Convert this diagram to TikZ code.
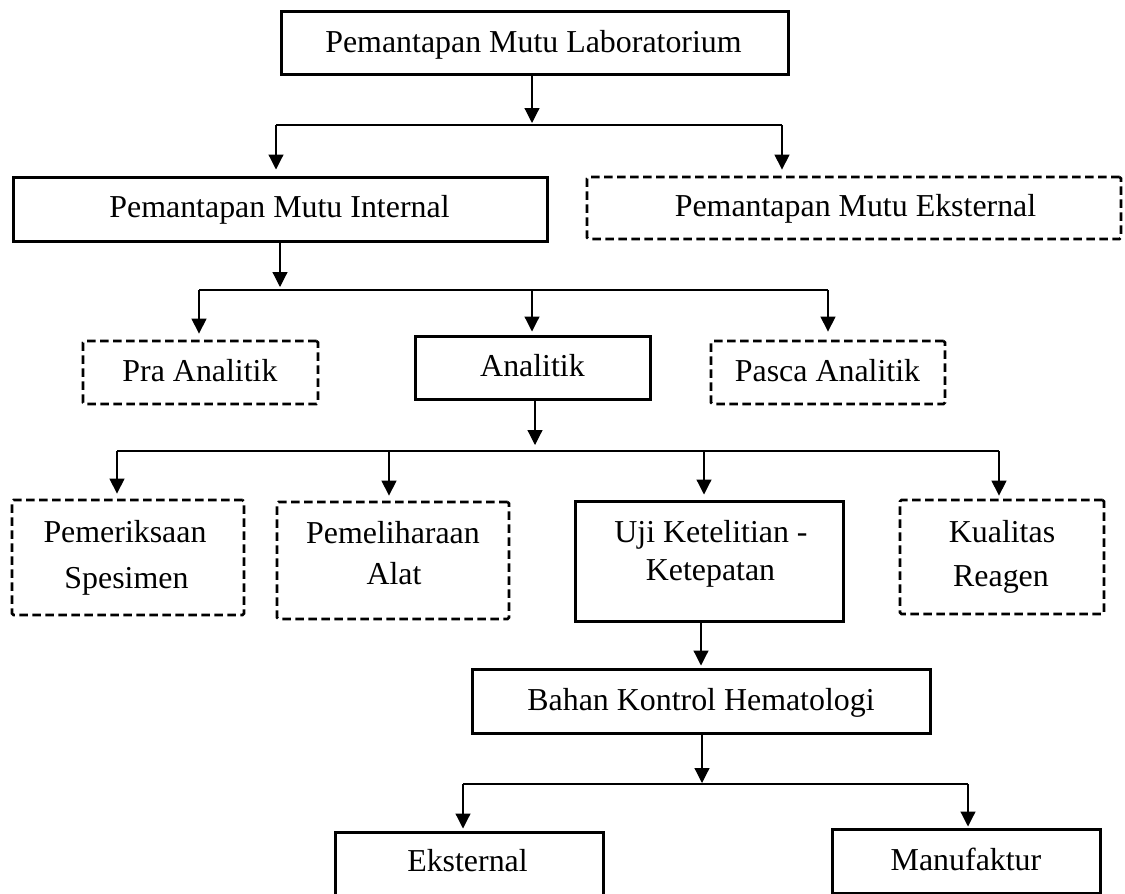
\documentclass[tikz,border=0pt]{standalone}
\usepackage{fontspec}
\setmainfont{Liberation Serif}
\usetikzlibrary{arrows.meta}
\tikzset{
  boxsolid/.style={draw=black, line width=3pt, inner sep=0pt, rectangle},
  boxdash/.style={draw=black, line width=2.8pt, dash pattern=on 8.5pt off 4.5pt, rounded corners=1.5pt, inner sep=0pt, rectangle},
  lbl/.style={anchor=base, inner sep=0pt, font=\fontsize{31.9}{38}\selectfont},
  arr/.style={-{Triangle[length=15pt,width=15pt]}, line width=1.2pt},
  busline/.style={line width=1.2pt}
}
\begin{document}
\begin{tikzpicture}[x=1pt,y=-1pt]
\clip (0,0) rectangle (1125,894);
\fill[white] (0,0) rectangle (1125,894);
% boxes
\node[boxsolid, minimum width=507pt, minimum height=63pt] (top) at (534.5,42.5) {};
\node[boxsolid, minimum width=534pt, minimum height=64pt] (pmi) at (280,209) {};
\node[boxdash, minimum width=534pt, minimum height=62pt] (pme) at (854,208) {};
\node[boxdash, minimum width=235pt, minimum height=63pt] (pra) at (200.5,372.5) {};
\node[boxsolid, minimum width=235pt, minimum height=63pt] (ana) at (532.5,367.5) {};
\node[boxdash, minimum width=234pt, minimum height=63pt] (pasca) at (828,372.5) {};
\node[boxdash, minimum width=232pt, minimum height=115pt] (spes) at (128,557.5) {};
\node[boxdash, minimum width=232pt, minimum height=117pt] (alat) at (393,560.5) {};
\node[boxsolid, minimum width=268pt, minimum height=120pt] (uji) at (709,561) {};
\node[boxdash, minimum width=204pt, minimum height=114pt] (reag) at (1002,557) {};
\node[boxsolid, minimum width=458pt, minimum height=64pt] (bahan) at (701,701) {};
\node[boxsolid, minimum width=268pt, minimum height=66pt] (eks) at (469,865) {};
\node[boxsolid, minimum width=268pt, minimum height=64pt] (manu) at (966,861) {};
% labels
\node[lbl] (t-top) at (533.5,52.5) {Pemantapan Mutu Laboratorium};
\node[lbl] (t-pmi) at (279.5,217.3) {Pemantapan Mutu Internal};
\node[lbl] (t-pme) at (855.5,216.7) {Pemantapan Mutu Eksternal};
\node[lbl] (t-pra) at (200,381) {Pra Analitik};
\node[lbl] (t-ana) at (532.5,376.7) {Analitik};
\node[lbl] (t-pasca) at (827.5,381) {Pasca Analitik};
\node[lbl] (t-spes1) at (125,542) {Pemeriksaan};
\node[lbl] (t-spes2) at (126.5,588) {Spesimen};
\node[lbl] (t-alat1) at (393,543) {Pemeliharaan};
\node[lbl] (t-alat2) at (394,584) {Alat};
\node[lbl] (t-uji1) at (711,542) {Uji Ketelitian -};
\node[lbl] (t-uji2) at (710.5,580) {Ketepatan};
\node[lbl] (t-reag1) at (1002,542) {Kualitas};
\node[lbl] (t-reag2) at (1001,586) {Reagen};
\node[lbl] (t-bahan) at (701,710) {Bahan Kontrol Hematologi};
\node[lbl] (t-eks) at (467.5,871.5) {Eksternal};
\node[lbl] (t-manu) at (966,870) {Manufaktur};
% bus coordinates
\coordinate (b1) at (532,125);
\coordinate (b1l) at (276,125);
\coordinate (b1r) at (782,125);
\coordinate (b2) at (280,290);
\coordinate (b2l) at (199,290);
\coordinate (b2m) at (532,290);
\coordinate (b2r) at (828,290);
\coordinate (b3) at (535,451);
\coordinate (b3a) at (117,451);
\coordinate (b3b) at (389,451);
\coordinate (b3c) at (704,451);
\coordinate (b3d) at (999,451);
\coordinate (c4) at (701,668);
\coordinate (b5) at (702,784);
\coordinate (b5l) at (463,784);
\coordinate (b5r) at (968,784);
% level 1
\draw[arr, shorten >=2pt] (top.south -| b1) -- (b1);
\draw[busline] (b1l) -- (b1r);
\draw[arr, shorten >=6pt] (b1l) -- (b1l |- pmi.north);
\draw[arr, shorten >=6pt] (b1r) -- (b1r |- pme.north);
% level 2
\draw[arr, shorten >=3pt] (pmi.south -| b2) -- (b2);
\draw[busline] (b2l) -- (b2r);
\draw[arr, shorten >=6pt] (b2l) -- (b2l |- pra.north);
\draw[arr, shorten >=3pt] (b2m) -- (b2m |- ana.north);
\draw[arr, shorten >=8pt] (b2r) -- (b2r |- pasca.north);
% level 3
\draw[arr, shorten >=6pt] (ana.south -| b3) -- (b3);
\draw[busline] (b3a) -- (b3d);
\draw[arr, shorten >=5pt] (b3a) -- (b3a |- spes.north);
\draw[arr, shorten >=5pt] (b3b) -- (b3b |- alat.north);
\draw[arr, shorten >=5pt] (b3c) -- (b3c |- uji.north);
\draw[arr, shorten >=3pt] (b3d) -- (b3d |- reag.north);
% level 4
\draw[arr, shorten >=2pt] (uji.south -| c4) -- (c4 |- bahan.north);
% level 5
\draw[arr, shorten >=1pt] (bahan.south -| b5) -- (b5);
\draw[busline] (b5l) -- (b5r);
\draw[arr, shorten >=2pt] (b5l) -- (b5l |- eks.north);
\draw[arr, shorten >=1pt] (b5r) -- (b5r |- manu.north);
\end{tikzpicture}
\end{document}
